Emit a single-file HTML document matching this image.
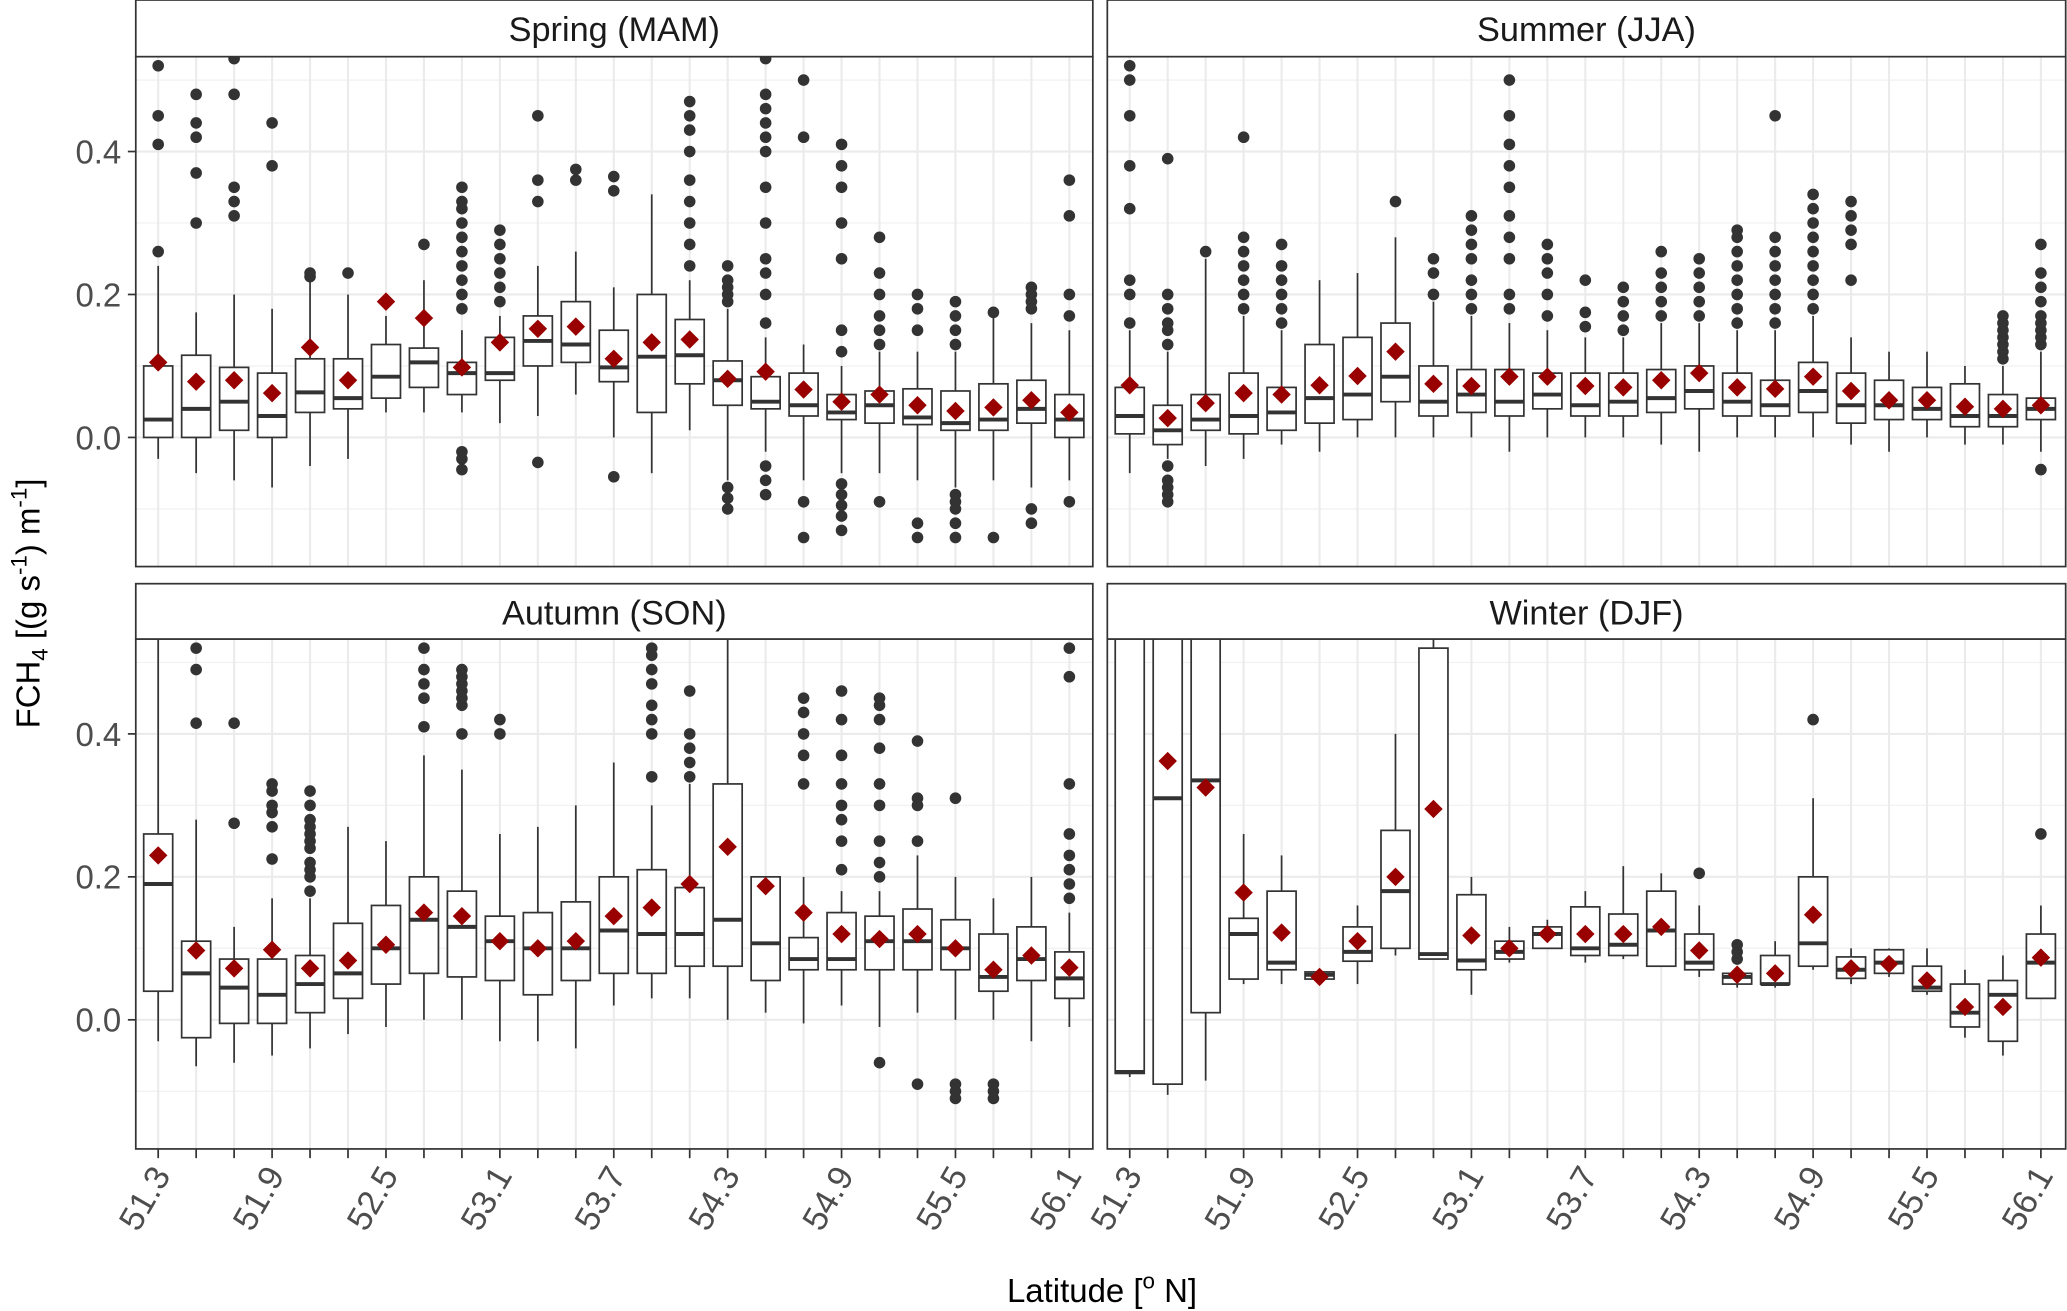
<!DOCTYPE html>
<html><head><meta charset="utf-8"><style>
html,body{margin:0;padding:0;background:#fff}
svg{display:block}
text{font-family:"Liberation Sans",sans-serif}
</style></head><body>
<svg id="chart" width="2067" height="1311" viewBox="0 0 1568 995" preserveAspectRatio="none" xmlns="http://www.w3.org/2000/svg">
<defs>
<clipPath id="c0"><rect x="103" y="43" width="726" height="387"/></clipPath>
<clipPath id="c1"><rect x="840" y="43" width="727" height="387"/></clipPath>
<clipPath id="c2"><rect x="103" y="485" width="726" height="387"/></clipPath>
<clipPath id="c3"><rect x="840" y="485" width="727" height="387"/></clipPath>
</defs>
<g id="root"></g>
<text transform="translate(30,458) rotate(-90)" text-anchor="middle" font-size="25" fill="#000">FCH<tspan font-size="17" dy="6">4</tspan><tspan dy="-6"> [(g s</tspan><tspan font-size="17" dy="-10">-1</tspan><tspan dy="10">) m</tspan><tspan font-size="17" dy="-10">-1</tspan><tspan dy="10">]</tspan></text>
<text x="836" y="988" text-anchor="middle" font-size="25" fill="#000">Latitude [<tspan font-size="17" dy="-10">o</tspan><tspan dy="10"> N]</tspan></text>
</svg>
<script>
const latitudes = ["51.3","51.5","51.7","51.9","52.1","52.3","52.5","52.7","52.9","53.1","53.3","53.5","53.7","53.9","54.1","54.3","54.5","54.7","54.9","55.1","55.3","55.5","55.7","55.9","56.1"];
const yTicks = [0.0, 0.2, 0.4];
const yMinor = [-0.1, 0.1, 0.3, 0.5];
const panelTitles = ["Spring (MAM)","Summer (JJA)","Autumn (SON)","Winter (DJF)"];
// [whiskerLow, q1, median, q3, whiskerHigh, mean]
const springStats = [[-0.03,0,0.025,0.10,0.24,0.105],[-0.05,0,0.04,0.115,0.175,0.078],[-0.06,0.01,0.05,0.098,0.2,0.08],[-0.07,0,0.03,0.09,0.18,0.062],[-0.04,0.035,0.063,0.11,0.22,0.126],[-0.03,0.04,0.055,0.11,0.2,0.08],[0.035,0.055,0.085,0.13,0.17,0.19],[0.035,0.07,0.105,0.125,0.22,0.167],[0.035,0.06,0.09,0.105,0.15,0.098],[0.02,0.08,0.09,0.14,0.17,0.133],[0.03,0.1,0.135,0.17,0.24,0.152],[0.06,0.105,0.13,0.19,0.26,0.155],[0,0.078,0.098,0.15,0.21,0.11],[-0.05,0.035,0.113,0.2,0.34,0.133],[0.01,0.075,0.115,0.165,0.22,0.137],[-0.06,0.045,0.08,0.107,0.18,0.082],[-0.02,0.04,0.05,0.085,0.14,0.092],[-0.06,0.03,0.045,0.09,0.13,0.067],[-0.05,0.025,0.035,0.06,0.1,0.05],[-0.05,0.02,0.045,0.065,0.12,0.06],[-0.06,0.018,0.028,0.068,0.12,0.045],[-0.07,0.01,0.02,0.065,0.12,0.037],[-0.06,0.01,0.025,0.075,0.17,0.042],[-0.07,0.02,0.04,0.08,0.16,0.052],[-0.06,0,0.025,0.06,0.15,0.035]];
const springOutliers = [[0.26,0.41,0.45,0.52],[0.30,0.37,0.42,0.44,0.48],[0.31,0.33,0.35,0.48,0.53],[0.38,0.44],[0.225,0.23],[0.23],[],[0.27],[-0.045,-0.03,-0.02,0.18,0.2,0.22,0.24,0.26,0.28,0.30,0.32,0.33,0.35],[0.19,0.21,0.23,0.25,0.27,0.29],[-0.035,0.33,0.36,0.45],[0.36,0.375],[-0.055,0.345,0.365],[],[0.24,0.27,0.30,0.33,0.36,0.40,0.43,0.45,0.47],[-0.1,-0.085,-0.07,0.19,0.2,0.21,0.22,0.24],[-0.08,-0.06,-0.04,0.16,0.2,0.23,0.25,0.3,0.35,0.4,0.42,0.44,0.46,0.48,0.53],[-0.14,-0.09,0.42,0.5],[-0.13,-0.11,-0.095,-0.08,-0.065,0.12,0.15,0.25,0.3,0.35,0.38,0.41],[-0.09,0.13,0.15,0.17,0.2,0.23,0.28],[-0.14,-0.12,0.15,0.18,0.2],[-0.14,-0.12,-0.1,-0.09,-0.08,0.13,0.15,0.17,0.19],[-0.14,0.175],[-0.12,-0.1,0.18,0.19,0.2,0.21],[-0.09,0.17,0.2,0.31,0.36]];
const summerStats = [[-0.05,0.005,0.03,0.07,0.15,0.073],[-0.03,-0.01,0.01,0.045,0.12,0.027],[-0.04,0.01,0.025,0.06,0.25,0.048],[-0.03,0.005,0.03,0.09,0.17,0.062],[-0.01,0.01,0.035,0.07,0.15,0.06],[-0.02,0.02,0.055,0.13,0.22,0.073],[0,0.025,0.06,0.14,0.23,0.086],[0,0.05,0.085,0.16,0.28,0.12],[0,0.03,0.05,0.1,0.19,0.075],[0,0.035,0.06,0.095,0.17,0.072],[-0.02,0.03,0.05,0.095,0.16,0.085],[0,0.04,0.06,0.09,0.15,0.085],[0,0.03,0.045,0.09,0.14,0.072],[0,0.03,0.05,0.09,0.14,0.07],[-0.01,0.035,0.055,0.095,0.16,0.08],[-0.02,0.04,0.065,0.1,0.16,0.09],[0,0.03,0.05,0.09,0.15,0.07],[0,0.03,0.045,0.08,0.15,0.068],[0,0.035,0.065,0.105,0.17,0.085],[-0.01,0.02,0.045,0.09,0.14,0.065],[-0.02,0.025,0.045,0.08,0.12,0.052],[0,0.025,0.04,0.07,0.12,0.052],[-0.01,0.015,0.03,0.075,0.1,0.043],[-0.01,0.015,0.03,0.06,0.1,0.04],[-0.02,0.025,0.04,0.055,0.12,0.045]];
const summerOutliers = [[0.16,0.2,0.22,0.32,0.38,0.45,0.5,0.52],[-0.09,-0.08,-0.07,-0.06,-0.04,0.13,0.15,0.16,0.18,0.2,0.39],[0.26],[0.18,0.2,0.22,0.24,0.26,0.28,0.42],[0.16,0.18,0.2,0.22,0.24,0.27],[],[],[0.33],[0.2,0.23,0.25],[0.18,0.2,0.22,0.25,0.27,0.29,0.31],[0.18,0.2,0.25,0.28,0.31,0.35,0.38,0.41,0.45,0.5],[0.17,0.2,0.23,0.25,0.27],[0.155,0.175,0.22],[0.15,0.17,0.19,0.21],[0.17,0.19,0.21,0.23,0.26],[0.17,0.19,0.21,0.23,0.25],[0.16,0.18,0.2,0.22,0.24,0.26,0.28,0.29],[0.16,0.18,0.2,0.22,0.24,0.26,0.28,0.45],[0.18,0.2,0.22,0.24,0.26,0.28,0.3,0.32,0.34],[0.22,0.27,0.29,0.31,0.33],[],[],[],[0.11,0.12,0.13,0.14,0.15,0.16,0.17],[-0.045,0.13,0.14,0.15,0.16,0.17,0.19,0.21,0.23,0.27]];
const autumnStats = [[-0.03,0.04,0.19,0.26,0.55,0.23],[-0.065,-0.025,0.065,0.11,0.28,0.097],[-0.06,-0.005,0.045,0.085,0.13,0.072],[-0.05,-0.005,0.035,0.085,0.17,0.098],[-0.04,0.01,0.05,0.09,0.17,0.072],[-0.02,0.03,0.065,0.135,0.27,0.083],[-0.01,0.05,0.1,0.16,0.25,0.105],[0,0.065,0.14,0.2,0.37,0.15],[0,0.06,0.13,0.18,0.35,0.145],[-0.03,0.055,0.11,0.145,0.26,0.11],[-0.03,0.035,0.1,0.15,0.27,0.1],[-0.04,0.055,0.1,0.165,0.3,0.11],[0.02,0.065,0.125,0.2,0.36,0.145],[0.03,0.065,0.12,0.21,0.3,0.157],[0.03,0.075,0.12,0.185,0.33,0.19],[0,0.075,0.14,0.33,0.55,0.242],[0.01,0.055,0.107,0.2,0.2,0.187],[-0.005,0.07,0.085,0.115,0.2,0.15],[0.02,0.07,0.085,0.15,0.18,0.12],[-0.01,0.07,0.11,0.145,0.18,0.113],[0.01,0.07,0.11,0.155,0.23,0.12],[0,0.07,0.1,0.14,0.2,0.1],[0,0.04,0.06,0.12,0.17,0.07],[-0.03,0.055,0.085,0.13,0.2,0.09],[-0.01,0.03,0.058,0.095,0.15,0.073]];
const autumnOutliers = [[],[0.415,0.49,0.52],[0.275,0.415],[0.225,0.27,0.29,0.3,0.32,0.33],[0.18,0.2,0.21,0.22,0.24,0.25,0.26,0.27,0.28,0.3,0.32],[],[],[0.41,0.45,0.47,0.49,0.52],[0.4,0.44,0.45,0.46,0.47,0.48,0.49],[0.4,0.42],[],[],[],[0.34,0.4,0.42,0.44,0.47,0.49,0.51,0.52],[0.34,0.36,0.38,0.4,0.46],[],[],[0.33,0.37,0.4,0.43,0.45],[0.21,0.25,0.28,0.3,0.33,0.37,0.42,0.46],[-0.06,0.2,0.22,0.25,0.3,0.33,0.38,0.42,0.44,0.45],[-0.09,0.25,0.3,0.31,0.39],[-0.11,-0.1,-0.09,0.31],[-0.11,-0.1,-0.09],[],[0.17,0.19,0.21,0.23,0.26,0.33,0.48,0.52]];
const winterStats = [[-0.08,-0.075,-0.073,0.7,0.8,0.7],[-0.105,-0.09,0.31,0.7,0.8,0.362],[-0.085,0.01,0.335,0.7,0.8,0.325],[0.05,0.057,0.12,0.142,0.26,0.178],[0.05,0.07,0.08,0.18,0.23,0.122],[0.055,0.057,0.063,0.067,0.07,0.06],[0.05,0.082,0.095,0.13,0.16,0.11],[0.09,0.1,0.18,0.265,0.4,0.2],[0.085,0.085,0.092,0.52,0.55,0.295],[0.035,0.07,0.083,0.175,0.2,0.118],[0.08,0.085,0.095,0.11,0.13,0.1],[0.1,0.1,0.12,0.13,0.14,0.12],[0.08,0.09,0.1,0.158,0.18,0.12],[0.085,0.09,0.105,0.148,0.215,0.12],[0.075,0.075,0.125,0.18,0.205,0.13],[0.06,0.07,0.08,0.12,0.16,0.097],[0.045,0.05,0.06,0.065,0.07,0.063],[0.045,0.05,0.05,0.09,0.11,0.065],[0.07,0.075,0.107,0.2,0.31,0.147],[0.05,0.058,0.07,0.088,0.1,0.072],[0.06,0.065,0.08,0.098,0.1,0.078],[0.035,0.04,0.045,0.075,0.1,0.055],[-0.025,-0.01,0.01,0.05,0.07,0.018],[-0.05,-0.03,0.035,0.055,0.09,0.018],[0.03,0.03,0.08,0.12,0.16,0.087]];
const winterOutliers = [[],[],[],[],[],[],[],[],[],[],[],[],[],[],[],[0.205],[0.085,0.095,0.105],[],[0.42],[],[],[],[],[],[0.26]];

const allStats = [springStats, summerStats, autumnStats, winterStats];
const allOutliers = [springOutliers, summerOutliers, autumnOutliers, winterOutliers];
const panelNames = ["spring","summer","autumn","winter"];
const NS = "http://www.w3.org/2000/svg";
const root = document.getElementById('root');
function mk(tag, attrs, parent){ const e=document.createElementNS(NS,tag); for(const k in attrs) e.setAttribute(k,attrs[k]); (parent||root).appendChild(e); return e; }

for (let p=0;p<4;p++){
  const x0 = p%2===0 ? 103 : 840, x1 = p%2===0 ? 829 : 1567;
  const top = p<2 ? 43 : 485, bot = top+387, stripTop = p<2 ? 0 : 443;
  const zeroY = top+289, k = 542.5;
  const yS = v => zeroY - v*k;
  const xS = i => x0 + 17 + 28.8*i;
  const g = mk('g',{});
  
  
  yMinor.forEach(v=>{ mk('line',{x1:x0,x2:x1,y1:yS(v),y2:yS(v),stroke:'#f2f2f2','stroke-width':1},g); });
  yTicks.forEach(v=>{ mk('line',{x1:x0,x2:x1,y1:yS(v),y2:yS(v),stroke:'#ebebeb','stroke-width':1.6},g); });
  latitudes.forEach((l,i)=>{ mk('line',{x1:xS(i),x2:xS(i),y1:top,y2:bot,stroke:'#ebebeb','stroke-width':1.6},g); });
  const cg = mk('g',{'clip-path':'url(#c'+p+')'},g);
  const st = allStats[p], ou = allOutliers[p];
  st.forEach((s,i)=>{
    const x = xS(i);
    const bg = mk('g',{},cg);
    
    
    mk('line',{x1:x,x2:x,y1:yS(s[0]),y2:yS(s[1]),stroke:'#333','stroke-width':1.3},bg);
    mk('line',{x1:x,x2:x,y1:yS(s[3]),y2:yS(s[4]),stroke:'#333','stroke-width':1.3},bg);
    mk('rect',{x:x-11,y:yS(s[3]),width:22,height:Math.max(1,yS(s[1])-yS(s[3])),fill:'#fff',stroke:'#333','stroke-width':1.3},bg);
    mk('line',{x1:x-11,x2:x+11,y1:yS(s[2]),y2:yS(s[2]),stroke:'#333','stroke-width':3},bg);
    ou[i].forEach(v=>{
      const c = mk('circle',{cx:x,cy:yS(v),r:4.4,fill:'#333'},bg);
      
      
    });
    const my = yS(s[5]);
    const d = mk('polygon',{points:`${x},${my-7} ${x+7},${my} ${x},${my+7} ${x-7},${my}`,fill:'#990000'},bg);
    
    
  });
  mk('rect',{x:x0,y:top,width:x1-x0,height:bot-top,fill:'none',stroke:'#333','stroke-width':1.3},g);
  const sr = mk('rect',{x:x0,y:stripTop,width:x1-x0,height:top-stripTop,fill:'#fff',stroke:'#333','stroke-width':1.3},g);
  
  
  const t = mk('text',{x:(x0+x1)/2,y:stripTop+31,'text-anchor':'middle','font-size':26,fill:'#1a1a1a'},g);
  t.textContent = panelTitles[p];
  
  
  if (p%2===0){
    yTicks.forEach(v=>{
      mk('line',{x1:x0-6,x2:x0,y1:yS(v),y2:yS(v),stroke:'#333','stroke-width':1.3},g);
      const tl = mk('text',{x:x0-11,y:yS(v)+9,'text-anchor':'end','font-size':25,fill:'#4d4d4d'},g);
      tl.textContent = v.toFixed(1);
      
      
    });
  }
  if (p>=2){
    latitudes.forEach((l,i)=>{
      mk('line',{x1:xS(i),x2:xS(i),y1:bot,y2:bot+7,stroke:'#333','stroke-width':1.3},g);
      if (i%3===0){
        const tl = mk('text',{transform:`translate(${xS(i)+10},${bot+20}) rotate(-60)`,'text-anchor':'end','font-size':26,fill:'#4d4d4d'},g);
        tl.textContent = l;
        
        
      }
    });
  }
}
</script>
</body></html>
